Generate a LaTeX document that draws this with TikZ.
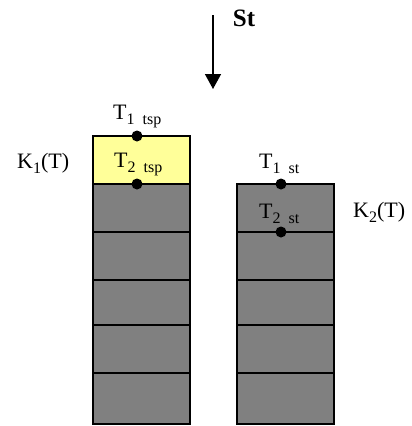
\documentclass[tikz,border=0pt]{standalone}
\usepackage{fontspec}
\setmainfont{Liberation Serif}
\usetikzlibrary{arrows.meta}
\newcommand\sbx[1]{\raisebox{-0.24em}{\fontsize{16}{16}\selectfont #1}}
\definecolor{cellgray}{RGB}{128,128,128}
\definecolor{cellyellow}{RGB}{255,255,153}
\begin{document}
\begin{tikzpicture}[x=1pt,y=-1pt,
  lab/.style={anchor=base west, inner sep=0, font=\fontsize{22}{22}\selectfont},
  cell/.style={draw=black, line width=1.3pt},
  dotnode/.style={circle, fill=black, inner sep=0, minimum size=11pt},
  gcell/.style={cell, fill=cellgray}]
\useasboundingbox (0,0) rectangle (412,426);
% left column
\draw[cell, fill=cellyellow] (93,136) rectangle (190,184);
\draw[gcell] (93,184) rectangle (190,232);
\draw[gcell] (93,232) rectangle (190,280);
\draw[gcell] (93,280) rectangle (190,325);
\draw[gcell] (93,325) rectangle (190,373);
\draw[gcell] (93,373) rectangle (190,424);
% right column
\draw[gcell] (237,184) rectangle (334,232);
\draw[gcell] (237,232) rectangle (334,280);
\draw[gcell] (237,280) rectangle (334,325);
\draw[gcell] (237,325) rectangle (334,373);
\draw[gcell] (237,373) rectangle (334,424);
% dots
\node[dotnode] (d1) at (137,136) {};
\node[dotnode] (d2) at (137,184) {};
\node[dotnode] (d3) at (281,184) {};
\node[dotnode] (d4) at (281,232) {};
% arrow
\coordinate (a0) at (213,15);
\coordinate (a1) at (213,89);
\draw[line width=1.5pt, -{Triangle[length=15pt,width=16pt]}] (a0) -- (a1);
\node[anchor=center, inner sep=0, font=\fontsize{25}{25}\selectfont\bfseries] (st) at (244,18) {St};
% labels
\node[lab] (t1tsp) at (113,119) {T\sbx{1\hspace{0.5em}tsp}};
\node[lab] (t2tsp) at (114,167) {T\sbx{2\hspace{0.5em}tsp}};
\node[lab] (t1st) at (259,168) {T\sbx{1\hspace{0.5em}st}};
\node[lab] (t2st) at (259,218) {T\sbx{2\hspace{0.5em}st}};
\node[lab] (k1) at (17,168) {K\sbx{1}(T)};
\node[lab] (k2) at (353,217) {K\sbx{2}(T)};
\end{tikzpicture}
\end{document}
